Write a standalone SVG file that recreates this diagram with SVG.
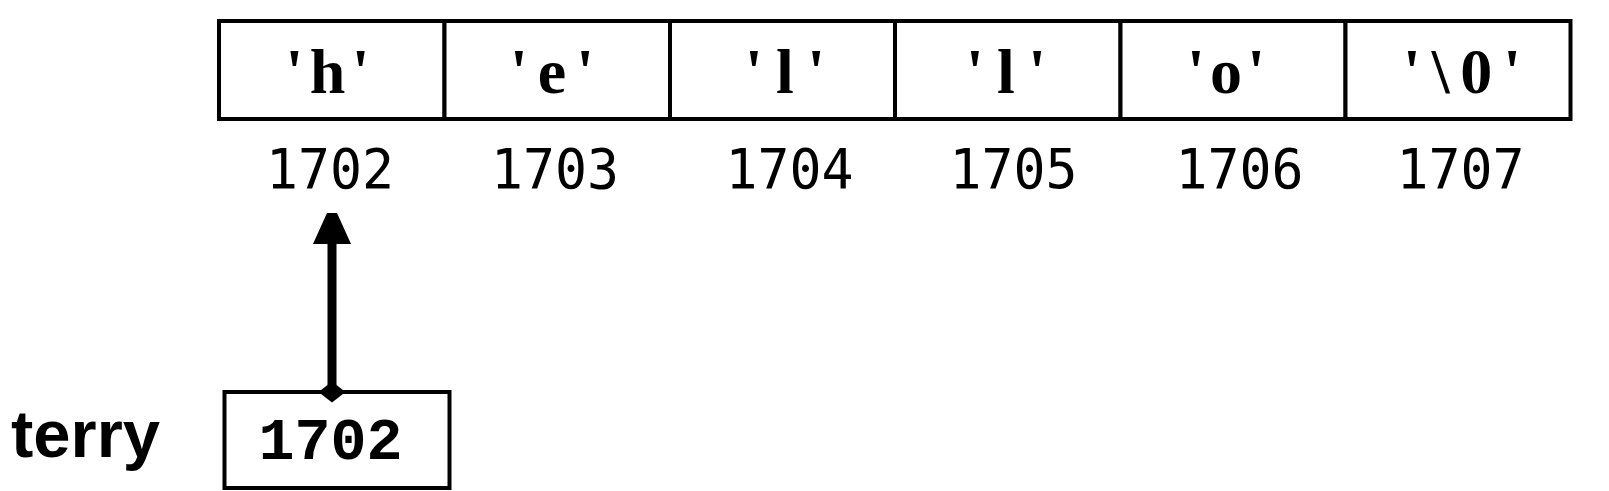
<svg xmlns="http://www.w3.org/2000/svg" width="1609" height="491" viewBox="0 0 1609 491">
<style>
.cell{fill:#fff;stroke:#000;stroke-width:4}
.ch{font-family:"Liberation Serif",serif;font-weight:bold;font-size:64px;text-anchor:middle;fill:#000}
.addr{font-family:"DejaVu Sans Mono",monospace;font-size:56px;text-anchor:middle;fill:#000}
.val{font-family:"Liberation Mono",monospace;font-weight:bold;font-size:60px;text-anchor:middle;fill:#000}
.name{font-family:"Liberation Sans",sans-serif;font-weight:bold;font-size:66px;fill:#000}
</style>
<rect width="1609" height="491" fill="#fff"/>
<g id="cell-1702">
<rect class="cell" x="219" y="21" width="225.5" height="98"/>
<text class="ch" x="327.5" y="93" textLength="84" lengthAdjust="spacing">'h'</text>
<text class="addr" x="330" y="187.5" textLength="128" lengthAdjust="spacingAndGlyphs">1702</text>
</g>
<g id="cell-1703">
<rect class="cell" x="444.5" y="21" width="225.5" height="98"/>
<text class="ch" x="552" y="93" textLength="84" lengthAdjust="spacing">'e'</text>
<text class="addr" x="555" y="187.5" textLength="128" lengthAdjust="spacingAndGlyphs">1703</text>
</g>
<g id="cell-1704">
<rect class="cell" x="670" y="21" width="225" height="98"/>
<text class="ch" x="785" y="93" textLength="80" lengthAdjust="spacing">'l'</text>
<text class="addr" x="789.5" y="187.5" textLength="128" lengthAdjust="spacingAndGlyphs">1704</text>
</g>
<g id="cell-1705">
<rect class="cell" x="895" y="21" width="225.5" height="98"/>
<text class="ch" x="1006" y="93" textLength="80" lengthAdjust="spacing">'l'</text>
<text class="addr" x="1013.5" y="187.5" textLength="128" lengthAdjust="spacingAndGlyphs">1705</text>
</g>
<g id="cell-1706">
<rect class="cell" x="1120.5" y="21" width="225" height="98"/>
<text class="ch" x="1226" y="93" textLength="78" lengthAdjust="spacing" font-weight="normal">'o'</text>
<text class="addr" x="1239.5" y="187.5" textLength="128" lengthAdjust="spacingAndGlyphs">1706</text>
</g>
<g id="cell-1707">
<rect class="cell" x="1345.5" y="21" width="225" height="98"/>
<text class="ch" x="1462" y="93" textLength="118" lengthAdjust="spacing">'\0'</text>
<text class="addr" x="1460.5" y="187.5" textLength="128" lengthAdjust="spacingAndGlyphs">1707</text>
</g>
<g id="terry">
<text class="name" x="11" y="456.7" textLength="149" lengthAdjust="spacingAndGlyphs">terry</text>
<rect class="cell" x="224.5" y="392" width="225" height="96"/>
<text class="val" x="330.5" y="459">1702</text>
</g>
<g id="connectors">
<line x1="332" y1="240" x2="332" y2="385" stroke="#000" stroke-width="9"/>
<polygon points="327,213 337,213 351,244 313,244" fill="#000"/>
<polygon points="332,381.5 345.5,392 332,402.5 318.5,392" fill="#000"/>
</g>
</svg>
